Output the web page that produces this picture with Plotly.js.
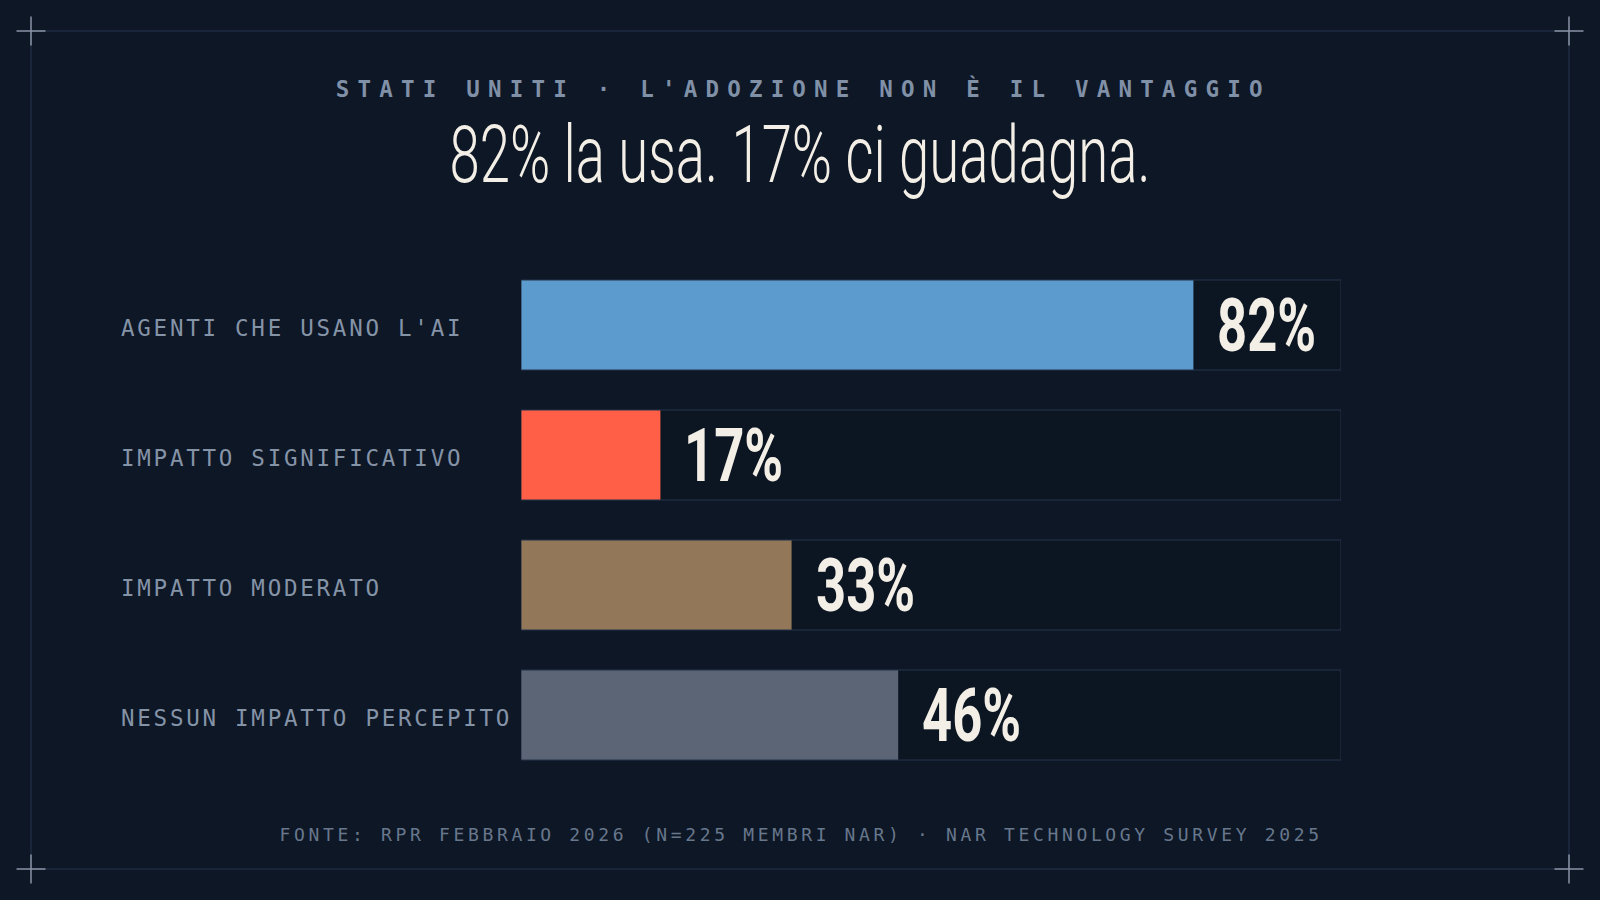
<!DOCTYPE html>
<html><head><meta charset="utf-8">
<script src="https://cdn.plot.ly/plotly-3.0.1.min.js"></script>
<style>
html,body{margin:0;padding:0;background:#0d1726;}
#chart{width:1600px;height:900px;}
</style>
</head><body><div id="chart"></div>
<script>
// ---- data ----
const categories = ["AGENTI CHE USANO L'AI", "IMPATTO SIGNIFICATIVO", "IMPATTO MODERATO", "NESSUN IMPATTO PERCEPITO"];
const values = [82, 17, 33, 46];
const valueLabels = ["82%", "17%", "33%", "46%"];
const barColors = ["#5c9bcd", "#ff5f46", "#937759", "#5b6576"];
const scaleMax = [100, 100, 100, 100];
const subtitleText = "STATI UNITI · L'ADOZIONE NON È IL VANTAGGIO";
const titleText = "82% la usa. 17% ci guadagna.";
const sourceText = "FONTE: RPR FEBBRAIO 2026 (N=225 MEMBRI NAR) · NAR TECHNOLOGY SURVEY 2025";

// ---- layout geometry ----
const W = 1600, H = 900;
const M = {l: 521, r: 259, t: 260, b: 120};
const PW = W - M.l - M.r, PH = H - M.t - M.b;
const px = v => (v - M.l) / PW;
const py = v => 1 - (v - M.t) / PH;

const BG = "#0d1726";
const FRAME = "#27354a";
const CROSS = "#8a95a7";
const CREAM = "#f3efe6";

// frame + corner crosses
const shapes = [];
const f0 = 31, fx1 = 1569, fy1 = 869, arm = 14.5;
shapes.push({type: "rect", xref: "paper", yref: "paper", x0: px(f0), x1: px(fx1), y0: py(f0), y1: py(fy1),
  line: {color: FRAME, width: 1}, fillcolor: "rgba(0,0,0,0)", layer: "below"});
[[f0, f0], [fx1, f0], [f0, fy1], [fx1, fy1]].forEach(([cx, cy]) => {
  shapes.push({type: "line", xref: "paper", yref: "paper", x0: px(cx - arm), x1: px(cx + arm), y0: py(cy), y1: py(cy), line: {color: CROSS, width: 1.5}});
  shapes.push({type: "line", xref: "paper", yref: "paper", x0: px(cx), x1: px(cx), y0: py(cy - arm), y1: py(cy + arm), line: {color: CROSS, width: 1.5}});
});

// annotations + per-annotation css
const annotations = [];
const css = [];
function addAnn(a, style) {
  const i = annotations.length;
  annotations.push(Object.assign({showarrow: false}, a));
  if (style) css.push('g.annotation[data-index="' + i + '"] text{' + style + '}');
}
addAnn({text: subtitleText, xref: "paper", yref: "paper", x: px(803), y: py(88.5), xanchor: "center", yanchor: "middle",
  font: {family: "DejaVu Sans Mono", size: 22.5, color: "#8090a6", weight: 700}}, "letter-spacing:8.2px;");
addAnn({text: titleText, xref: "paper", yref: "paper", x: px(800), y: py(155), xanchor: "center", yanchor: "middle",
  font: {family: "Roboto", size: 79, color: CREAM, weight: 300}},
  "transform:scaleX(0.69);transform-box:fill-box;transform-origin:50% 50%;");
addAnn({text: sourceText, xref: "paper", yref: "paper", x: px(801), y: py(834), xanchor: "center", yanchor: "middle",
  font: {family: "DejaVu Sans Mono", size: 18, color: "#68778c"}}, "letter-spacing:3.65px;");
categories.forEach((c, i) => {
  addAnn({text: c, xref: "paper", yref: "y", x: px(119), y: c, xanchor: "left", align: "left", yanchor: "middle", yshift: -2.5,
    font: {family: "DejaVu Sans Mono", size: 22.5, color: "#8593a7"}}, "letter-spacing:2.75px;");
});
categories.forEach((c, i) => {
  addAnn({text: valueLabels[i], xref: "x", yref: "y", x: values[i], y: c, xanchor: "left", align: "left", yanchor: "middle", xshift: 22,
    font: {family: "Roboto", size: 74, color: CREAM, weight: 700}},
    "transform:scaleX(0.71);transform-box:fill-box;transform-origin:0% 50%;");
});
const st = document.createElement("style");
st.textContent = css.join("\n");
document.head.appendChild(st);

const traces = [
  {type: "bar", orientation: "h", x: scaleMax, y: categories, marker: {color: "#0c1522", line: {width: 0}}, hoverinfo: "skip"},
  {type: "bar", orientation: "h", x: values, y: categories, marker: {color: barColors, line: {width: 0}}, hoverinfo: "skip"},
  {type: "bar", orientation: "h", x: scaleMax, y: categories, marker: {color: "rgba(0,0,0,0)", line: {color: FRAME, width: 1}}, hoverinfo: "skip"}
];

const layout = {
  width: W, height: H, margin: M,
  paper_bgcolor: BG, plot_bgcolor: "rgba(0,0,0,0)",
  showlegend: false, barmode: "overlay", bargap: 40 / 130,
  xaxis: {range: [0, 100], visible: false, fixedrange: true},
  yaxis: {type: "category", categoryorder: "array", categoryarray: categories, range: [3.5, -0.5],
    visible: false, fixedrange: true},
  shapes: shapes, annotations: annotations
};
Plotly.newPlot("chart", traces, layout, {displayModeBar: false, staticPlot: true});
</script>
</body></html>
